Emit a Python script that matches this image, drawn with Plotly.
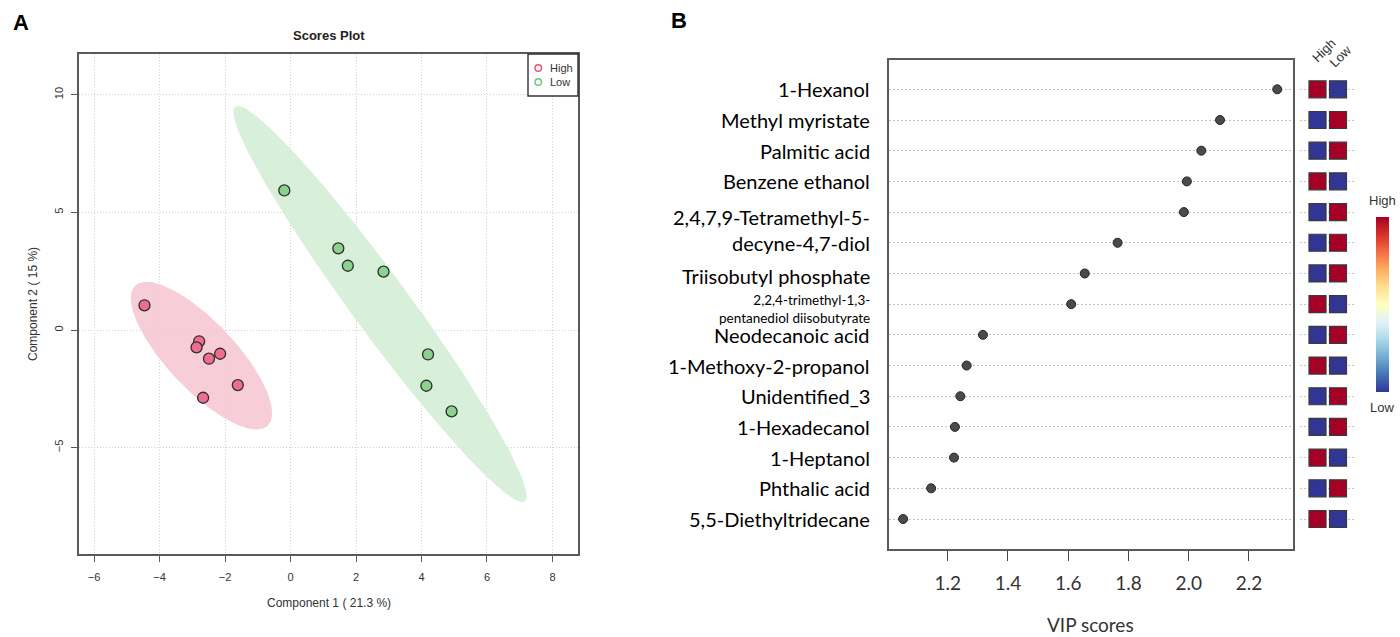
import numpy as np
import plotly.graph_objects as go

# ---------------- Panel A: PLS-DA scores ----------------
high_c1 = [-4.46, -2.79, -2.87, -2.49, -2.15, -1.61, -2.67]
high_c2 = [1.05, -0.48, -0.74, -1.22, -1.01, -2.34, -2.88]
low_c1 = [-0.19, 1.46, 1.75, 2.84, 4.20, 4.15, 4.92]
low_c2 = [5.93, 3.47, 2.73, 2.48, -1.04, -2.37, -3.46]

# ---------------- Panel B: VIP scores ----------------
compounds = [
    "1-Hexanol", "Methyl myristate", "Palmitic acid", "Benzene ethanol",
    "2,4,7,9-Tetramethyl-5-", "decyne-4,7-diol", "Triisobutyl phosphate",
    "2,2,4-trimethyl-1,3-<br>pentanediol diisobutyrate", "Neodecanoic acid",
    "1-Methoxy-2-propanol", "Unidentified_3", "1-Hexadecanol", "1-Heptanol",
    "Phthalic acid", "5,5-Diethyltridecane",
]
vip = [2.294, 2.104, 2.042, 1.994, 1.984, 1.764, 1.655, 1.610,
       1.317, 1.263, 1.242, 1.224, 1.221, 1.145, 1.052]
# relative concentration per group (1 = higher, 0 = lower)
level_high = [1, 0, 0, 1, 0, 0, 0, 1, 0, 1, 0, 0, 1, 0, 1]
level_low = [0, 1, 1, 0, 1, 1, 1, 0, 1, 0, 1, 1, 0, 1, 0]
groups = ["High", "Low"]

W, H = 1400, 637


def px_x(p):
    return p / W


def px_y(p):
    return 1 - p / H


def conf_ellipse(x, y, n=240):
    pts = np.column_stack([x, y])
    mu = pts.mean(axis=0)
    cov = np.cov(pts.T)
    vals, vecs = np.linalg.eigh(cov)
    k = np.sqrt(-2 * np.log(0.05))  # 95% level, chi-square with 2 df
    t = np.linspace(0, 2 * np.pi, n)
    circ = np.vstack([np.cos(t), np.sin(t)])
    e = vecs @ (np.sqrt(vals)[:, None] * circ) * k + mu[:, None]
    return e[0], e[1]


fig = go.Figure()

red_pt, red_fill, red_leg = "#EE6E8D", "rgba(246,196,209,0.85)", "#E8506F"
grn_pt, grn_fill, grn_leg = "#8CD18E", "rgba(212,237,214,0.9)", "#6CC470"

for cx, cy, fc in [(high_c1, high_c2, red_fill), (low_c1, low_c2, grn_fill)]:
    ex, ey = conf_ellipse(cx, cy)
    fig.add_trace(go.Scatter(x=ex, y=ey, mode="lines", fill="toself",
                             fillcolor=fc, line=dict(width=0),
                             hoverinfo="skip", showlegend=False,
                             xaxis="x", yaxis="y"))

for cx, cy, col, name in [(high_c1, high_c2, red_pt, "High"),
                          (low_c1, low_c2, grn_pt, "Low")]:
    fig.add_trace(go.Scatter(x=cx, y=cy, mode="markers", name=name,
                             marker=dict(size=11, color=col,
                                         line=dict(color="#2E2E2E", width=1.3)),
                             showlegend=False, xaxis="x", yaxis="y"))

# ---- Panel B dot plot ----
rows = list(range(len(compounds), 0, -1))
fig.add_trace(go.Scatter(x=vip, y=rows, mode="markers",
                         marker=dict(size=9, color="#4A4A4A",
                                     line=dict(color="#262626", width=1)),
                         showlegend=False, xaxis="x2", yaxis="y2"))

# ---- group mini heatmap ----
hx, hy, hv = [], [], []
for r, a, b in zip(rows, level_high, level_low):
    hx += [0, 1]
    hy += [r, r]
    hv += [a, b]
fig.add_trace(go.Scatter(
    x=hx, y=hy, mode="markers", showlegend=False, xaxis="x3", yaxis="y2",
    marker=dict(symbol="square", size=17, color=hv, cmin=0, cmax=1,
                colorscale="RdYlBu", reversescale=True,
                line=dict(color="#3A3A3A", width=1.2),
                showscale=True,
                colorbar=dict(x=px_x(1376), xanchor="left", xref="paper",
                              y=px_y(304.2), yanchor="middle", yref="paper",
                              thickness=13, thicknessmode="pixels",
                              len=175, lenmode="pixels",
                              outlinewidth=0, showticklabels=False,
                              ticks="", xpad=0, ypad=0))))

frame = "#5A5A5A"
grid = "#D0D0D0"
fontA = "Liberation Sans, Arial, sans-serif"
fontB = "Lato, Noto Sans, sans-serif"

fig.update_layout(
    width=W, height=H, margin=dict(l=0, r=0, t=0, b=0),
    paper_bgcolor="white", plot_bgcolor="white",
    xaxis=dict(domain=[px_x(79), px_x(578)], range=[-6.46, 8.78],
               tickvals=[-6, -4, -2, 0, 2, 4, 6, 8], ticks="outside",
               ticklen=6, tickcolor=frame, tickwidth=1.2,
               tickfont=dict(family=fontA, size=11, color="#333333"),
               ticklabelstandoff=6,
               showline=True, linecolor=frame, linewidth=1.6, mirror=True,
               showgrid=True, gridcolor=grid, griddash="1px,2px", gridwidth=1,
               zeroline=False, anchor="y"),
    yaxis=dict(domain=[px_y(554), px_y(54)], range=[-9.52, 11.73],
               tickvals=[-5, 0, 5, 10], ticks="outside", ticklen=6,
               tickcolor=frame, tickwidth=1.2, tickangle=-90,
               tickfont=dict(family=fontA, size=11, color="#333333"),
               ticklabelstandoff=4,
               showline=True, linecolor=frame, linewidth=1.6, mirror=True,
               showgrid=True, gridcolor=grid, griddash="1px,2px", gridwidth=1,
               zeroline=False, anchor="x"),
    xaxis2=dict(domain=[px_x(888.5), px_x(1292.6)], range=[1.0035, 2.345],
                tickvals=[1.2, 1.4, 1.6, 1.8, 2.0, 2.2],
                ticktext=["1.2", "1.4", "1.6", "1.8", "2.0", "2.2"],
                ticks="outside", ticklen=10, tickcolor="#444444", tickwidth=1.2,
                tickfont=dict(family=fontB, size=19, color="#333333"),
                ticklabelstandoff=6,
                showline=True, linecolor=frame, linewidth=1.6, mirror=True,
                showgrid=False, zeroline=False, anchor="y2"),
    yaxis2=dict(domain=[px_y(549), px_y(60)], range=[0.0225, 15.955],
                tickvals=rows, showticklabels=False, ticks="",
                showline=True, linecolor=frame, linewidth=1.6, mirror=True,
                showgrid=True, gridcolor="#C4C4C4", griddash="2px,2px",
                gridwidth=1, zeroline=False, anchor="x2"),
    xaxis3=dict(domain=[px_x(1300), px_x(1356)], range=[-0.854, 1.878],
                visible=False, anchor="y2"),
)


def label(text, x, y, size, family=fontA, color="#333333", angle=0,
          xanchor="center"):
    return dict(text=text, x=px_x(x), y=px_y(y), xref="paper", yref="paper",
                xanchor=xanchor, yanchor="middle", textangle=angle,
                showarrow=False,
                font=dict(family=family, size=size, color=color))


ann = [
    label("<b>A</b>", 21, 22, 22, color="black"),
    label("<b>B</b>", 679, 21, 22, color="black"),
    label("<b>Scores Plot</b>", 329, 35, 13, color="#222222"),
    label("Component 1 ( 21.3 %)", 329, 603, 12),
    label("Component 2 ( 15 %)", 33, 304, 12, angle=-90),
    label("High", 548, 68, 11, xanchor="left"),
    label("Low", 548, 82, 11, xanchor="left"),
    label("VIP scores", 1090.6, 624, 19, family=fontB),
    label(groups[0], 1324, 51, 13, angle=-45),
    label(groups[1], 1340, 56, 13, angle=-45),
    label("High", 1382, 200, 13),
    label("Low", 1382, 407, 13),
]
# compound labels, one per row of the dot plot
shifts = {4: -5, 6: -3, 7: -4.5}
for i, (lab, r) in enumerate(zip(compounds, rows)):
    small = "<br>" in lab
    ann.append(dict(text=lab, x=px_x(872), y=r, xref="paper", yref="y2",
                    xanchor="right", yanchor="middle", align="right",
                    showarrow=False, yshift=shifts.get(i, 0),
                    font=dict(family=fontB, size=13.5 if small else 20,
                              color="black")))
fig.update_layout(annotations=ann)

# legend box and symbols for panel A
shapes = [dict(type="rect", xref="paper", yref="paper",
               x0=px_x(528), x1=px_x(578), y0=px_y(96), y1=px_y(54),
               line=dict(color="#333333", width=1.4), fillcolor="white",
               layer="above")]
for col, yy in [(red_leg, 68), (grn_leg, 82)]:
    shapes.append(dict(type="circle", xref="paper", yref="paper",
                       x0=px_x(535), x1=px_x(541.5), y0=px_y(yy + 3.25),
                       y1=px_y(yy - 3.25), line=dict(color=col, width=1.4),
                       layer="above"))
fig.update_layout(shapes=shapes)

fig.write_html("out.html")
